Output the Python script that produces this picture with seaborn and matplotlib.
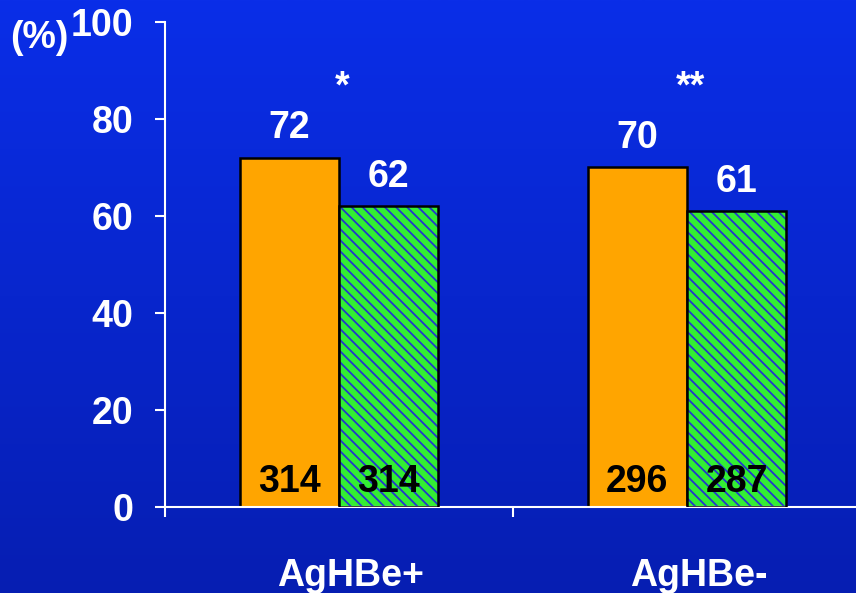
import numpy as np
import pandas as pd
import matplotlib
matplotlib.use("Agg")
import matplotlib.pyplot as plt
from matplotlib.patches import Rectangle
from matplotlib.transforms import ScaledTranslation
import seaborn as sns

# Data
categories = ["AgHBe+", "AgHBe-"]
series_names = ["Grupo 1", "Grupo 2"]
pct_grupo1 = [72, 70]
pct_grupo2 = [62, 61]
n_grupo1 = [314, 296]
n_grupo2 = [314, 287]
significance = ["*", "**"]
yticks = [0, 20, 40, 60, 80, 100]

df = pd.DataFrame({
    "categoria": categories * 2,
    "serie": [series_names[0]] * 2 + [series_names[1]] * 2,
    "pct": pct_grupo1 + pct_grupo2,
    "n": n_grupo1 + n_grupo2,
})

sns.set_style("white")
plt.rcParams["font.family"] = ["Liberation Sans", "DejaVu Sans"]
plt.rcParams["font.weight"] = "bold"
plt.rcParams["hatch.linewidth"] = 1.3

ORANGE = "#FFA500"
GREEN = "#33EE33"
HATCH_BLUE = "#2238CC"
WHITE = "white"

fig = plt.figure(figsize=(8.56, 5.93), dpi=100)

# Vertical blue gradient background
bg = fig.add_axes([0, 0, 1, 1], zorder=-10)
top = np.array([0x0A, 0x2E, 0xE8]) / 255
bottom = np.array([0x06, 0x1E, 0xB2]) / 255
t = np.linspace(0, 1, 256)[:, None]
grad = (top[None, :] * (1 - t) + bottom[None, :] * t)[:, None, :]
bg.imshow(grad, aspect="auto", extent=[0, 1, 0, 1], origin="upper")
bg.set_axis_off()

ax = fig.add_axes([165 / 856, 86 / 593, 696 / 856, 485 / 593])
ax.set_facecolor("none")

sns.barplot(data=df, x="categoria", y="pct", hue="serie", order=categories,
            hue_order=series_names, width=0.57, gap=0, palette=[ORANGE, GREEN],
            saturation=1, edgecolor="black", linewidth=1.8, legend=False,
            ax=ax, errorbar=None)

# Hatched second series: blue hatch with a black outline drawn on top
for bar in ax.containers[1]:
    bar.set_edgecolor(HATCH_BLUE)
    bar.set_linewidth(0)
    bar.set_hatch("\\\\\\")
    x0, y0 = bar.get_x(), bar.get_y()
    ax.add_patch(Rectangle((x0, y0), bar.get_width(), bar.get_height(),
                           fill=False, edgecolor="black", linewidth=1.8, zorder=3))

fs = 27
# Percentages above bars and counts inside bars
for cont, pcts, ns in [(ax.containers[0], pct_grupo1, n_grupo1),
                       (ax.containers[1], pct_grupo2, n_grupo2)]:
    for bar, p, n in zip(cont, pcts, ns):
        cx = bar.get_x() + bar.get_width() / 2
        ax.text(cx, p + 4, f"{p}", ha="center", va="baseline", color=WHITE,
                fontsize=fs, fontweight="bold")
        ax.text(cx, 5.2, f"{n}", ha="center", va="center", color="black",
                fontsize=fs, fontweight="bold", zorder=5)

for i, s in enumerate(significance):
    ax.text(i + 0.01, 86.5, s, ha="center", va="center", color=WHITE,
            fontsize=fs, fontweight="bold")

ax.set_xlim(-0.5, 1.5)
ax.set_ylim(0, 100)
ax.set_yticks(yticks)
ax.set_xticks([-0.5, 0.5], minor=False)
ax.set_xticks([0, 1], minor=True)
ax.set_xticklabels([], minor=False)
ax.set_xticklabels(categories, minor=True)
ax.set_xlabel("")
ax.set_ylabel("")

for side in ["top", "right"]:
    ax.spines[side].set_visible(False)
for side in ["left", "bottom"]:
    ax.spines[side].set_color(WHITE)
    ax.spines[side].set_linewidth(1.5)

ax.tick_params(axis="y", which="major", direction="out", length=7, width=1.5,
               color=WHITE, labelcolor=WHITE, labelsize=fs, pad=16, left=True)
ax.tick_params(axis="x", which="major", direction="out", length=7, width=1.5,
               color=WHITE, bottom=True)
ax.tick_params(axis="x", which="minor", length=0, labelcolor=WHITE,
               labelsize=fs, pad=37)
for lab in ax.get_yticklabels() + ax.get_xticklabels(minor=True):
    lab.set_fontweight("bold")
for lab in ax.get_xticklabels(minor=True):
    lab.set_transform(lab.get_transform() + ScaledTranslation(0.12, 0, fig.dpi_scale_trans))

fig.text(10 / 856, 1 - 38 / 593, "(%)", ha="left", va="center", color=WHITE,
         fontsize=fs, fontweight="bold")

fig.savefig("out.png", dpi=100)
